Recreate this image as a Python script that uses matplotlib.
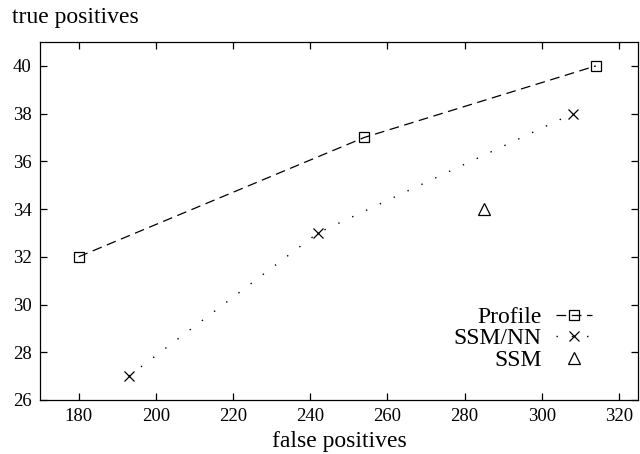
import matplotlib
matplotlib.use('Agg')
import matplotlib.pyplot as plt

# data
profile_fp = [180, 254, 314]
profile_tp = [32, 37, 40]

ssmnn_fp = [193, 242, 308]
ssmnn_tp = [27, 33, 38]

ssm_fp = [285]
ssm_tp = [34]

x_ticks = [180, 200, 220, 240, 260, 280, 300, 320]
y_ticks = [26, 28, 30, 32, 34, 36, 38, 40]

plt.rcParams['font.family'] = ['Liberation Serif', 'DejaVu Serif']
plt.rcParams['lines.scale_dashes'] = False

fig = plt.figure(figsize=(6.4, 4.54), dpi=100)
ax = fig.add_axes([0.0625, 0.119, 0.935, 0.7885])

ax.plot(profile_fp, profile_tp, color='black', lw=0.9,
        dashes=(7, 4), marker='s', ms=7, mfc='none', mew=0.9,
        label='Profile')
ax.plot(ssmnn_fp, ssmnn_tp, color='black', lw=1.0,
        dashes=(1, 10), marker='x', ms=7, mew=0.9,
        label='SSM/NN')
ax.plot(ssm_fp, ssm_tp, color='black', lw=0, linestyle='none',
        marker='^', ms=8, mfc='none', mew=0.9, label='SSM')

ax.set_xlim(170, 325)
ax.set_ylim(26, 41)
ax.set_xticks(x_ticks)
ax.set_yticks(y_ticks)

ax.tick_params(direction='in', top=True, right=True, length=5, width=0.9,
               labelsize=13.5, pad=6)
for sp in ax.spines.values():
    sp.set_linewidth(0.9)

ax.set_xlabel('false positives', fontsize=17, labelpad=4)
ax.set_ylabel('true positives', fontsize=17, rotation=0,
              ha='left', va='baseline')
ax.yaxis.set_label_coords(-0.047, 1.053)

# gnuplot style key: text on the left, right aligned (markerfirst=False)
leg = ax.legend(loc='lower right', bbox_to_anchor=(0.923, 0.081),
                frameon=False, fontsize=17, markerfirst=False,
                handlelength=1.55, handletextpad=0.6, labelspacing=0.0,
                borderpad=0, borderaxespad=0, numpoints=1)

fig.savefig('out.png', dpi=100)
